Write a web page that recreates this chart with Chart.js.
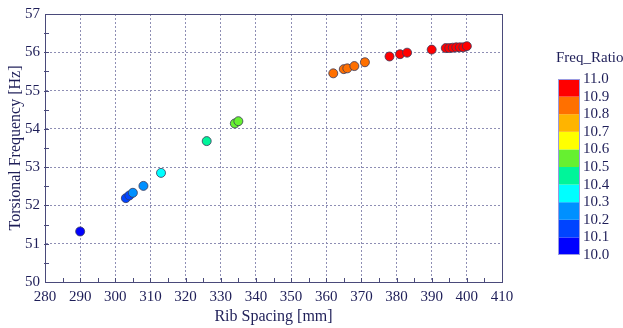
<!DOCTYPE html>
<html>
<head>
<meta charset="utf-8">
<script src="https://cdn.jsdelivr.net/npm/chart.js@4/dist/chart.umd.min.js"></script>
<style>
  html, body { margin: 0; padding: 0; background: #ffffff; }
  #wrap { width: 623px; height: 328px; }
</style>
</head>
<body>
<div id="wrap"><canvas id="c" width="623" height="328"></canvas></div>
<script>
// Rib spacing sweep: spacing [mm], torsional frequency [Hz], frequency ratio
const ribSpacing = [290, 303, 304, 305, 308, 313, 326, 334, 335,
  362, 365, 366, 368, 371, 378, 381, 383, 390, 394, 395, 396, 397, 398, 399, 400];
const torsionalFreq = [51.32, 52.19, 52.26, 52.33, 52.51, 52.85, 53.68, 54.14, 54.20,
  55.45, 55.56, 55.58, 55.64, 55.74, 55.89, 55.95, 55.99, 56.07, 56.11, 56.11, 56.12, 56.13, 56.13, 56.13, 56.16];
const freqRatio = [10.05, 10.15, 10.15, 10.25, 10.25, 10.35, 10.45, 10.55, 10.55,
  10.85, 10.85, 10.85, 10.85, 10.85, 10.95, 10.95, 10.95, 10.95, 10.95, 10.95, 10.95, 10.95, 10.95, 10.95, 10.95];

// Colour scale for Freq_Ratio: bin edges and one colour per bin (low to high)
const ratioEdges = [10.0, 10.1, 10.2, 10.3, 10.4, 10.5, 10.6, 10.7, 10.8, 10.9, 11.0];
const ratioColors = ['#0000ff', '#0044ff', '#0090ff', '#00ffff', '#00f59a',
  '#66f030', '#ffff00', '#ffb400', '#ff7000', '#ff0000'];

const xTicks = { min: 280, max: 410, step: 10, minor: 5 };
const yTicks = { min: 50, max: 57, step: 1, minor: 0.5 };

const TXT = '#1e1e58';
const AXIS = '#4a4a7a';
const GRID = '#8e8eb4';
const SERIF = "'Liberation Serif', 'DejaVu Serif', serif";

function colorFor(v) {
  for (let i = 0; i < ratioColors.length; i++) {
    if (v >= ratioEdges[i] && v < ratioEdges[i + 1]) return ratioColors[i];
  }
  return ratioColors[ratioColors.length - 1];
}

const points = ribSpacing.map((x, i) => ({ x, y: torsionalFreq[i] }));

// Frame, inner minor ticks and the Freq_Ratio colour bar
const decorations = {
  id: 'decorations',
  afterDraw(chart) {
    const { ctx, chartArea: a, scales: { x, y } } = chart;
    ctx.save();
    ctx.strokeStyle = AXIS;
    ctx.lineWidth = 1;
    ctx.strokeRect(Math.round(a.left) + 0.5, Math.round(a.top) + 0.5,
      Math.round(a.right - a.left), Math.round(a.bottom - a.top));
    ctx.beginPath();
    for (let v = xTicks.min + xTicks.minor; v < xTicks.max; v += xTicks.minor) {
      const px = Math.round(x.getPixelForValue(v)) + 0.5;
      ctx.moveTo(px, a.bottom + 1);
      ctx.lineTo(px, a.bottom - 4);
    }
    for (let v = yTicks.min + yTicks.minor; v < yTicks.max; v += yTicks.minor) {
      const py = Math.round(y.getPixelForValue(v)) + 0.5;
      ctx.moveTo(a.left - 1, py);
      ctx.lineTo(a.left + 4, py);
    }
    ctx.stroke();

    // colour bar
    const barL = 558, barR = 580, barT = 79, barB = 255;
    const n = ratioColors.length;
    const h = (barB - barT) / n;
    for (let i = 0; i < n; i++) {
      ctx.fillStyle = ratioColors[i];
      ctx.fillRect(barL, barB - (i + 1) * h, barR - barL, h);
    }
    ctx.strokeStyle = '#9a9ae0';
    ctx.strokeRect(barL + 0.5, barT + 0.5, barR - barL - 1, barB - barT - 1);
    ctx.fillStyle = TXT;
    ctx.font = '15px ' + SERIF;
    ctx.textAlign = 'left';
    ctx.textBaseline = 'middle';
    for (let i = 0; i <= n; i++) {
      ctx.fillText(ratioEdges[i].toFixed(1), 583, barB - i * h);
    }
    ctx.font = '15px ' + SERIF;
    ctx.fillText('Freq_Ratio', 556, 58);
    ctx.restore();
  }
};

new Chart(document.getElementById('c'), {
  type: 'scatter',
  data: {
    datasets: [{
      data: points,
      pointRadius: 4.5,
      pointHoverRadius: 4.5,
      pointBorderWidth: 0.8,
      pointBorderColor: '#3a3a5a',
      pointBackgroundColor: freqRatio.map(colorFor)
    }]
  },
  options: {
    responsive: false,
    animation: false,
    events: [],
    layout: { padding: { top: 12, right: 121, left: 0, bottom: 0 } },
    plugins: { legend: { display: false }, tooltip: { enabled: false } },
    scales: {
      x: {
        type: 'linear',
        min: xTicks.min, max: xTicks.max,
        afterFit(s) { s.height = 46; },
        ticks: { stepSize: xTicks.step, color: TXT, padding: 6,
          font: { family: SERIF, size: 15 } },
        grid: { color: GRID, lineWidth: 1, drawTicks: false },
        border: { color: AXIS, width: 1, dash: [2, 2] },
        title: { display: true, text: 'Rib Spacing [mm]', color: TXT,
          font: { family: SERIF, size: 16 }, padding: { top: 0, bottom: 2 } }
      },
      y: {
        type: 'linear',
        min: yTicks.min, max: yTicks.max,
        afterFit(s) { s.width = 45; },
        ticks: { stepSize: yTicks.step, color: TXT, padding: 5,
          font: { family: SERIF, size: 15 } },
        grid: { color: GRID, lineWidth: 1, drawTicks: false },
        border: { color: AXIS, width: 1, dash: [2, 2] },
        title: { display: true, text: 'Torsional Frequency [Hz]', color: TXT,
          font: { family: SERIF, size: 16 }, padding: { top: 6, bottom: 0 } }
      }
    }
  },
  plugins: [decorations]
});
</script>
</body>
</html>
